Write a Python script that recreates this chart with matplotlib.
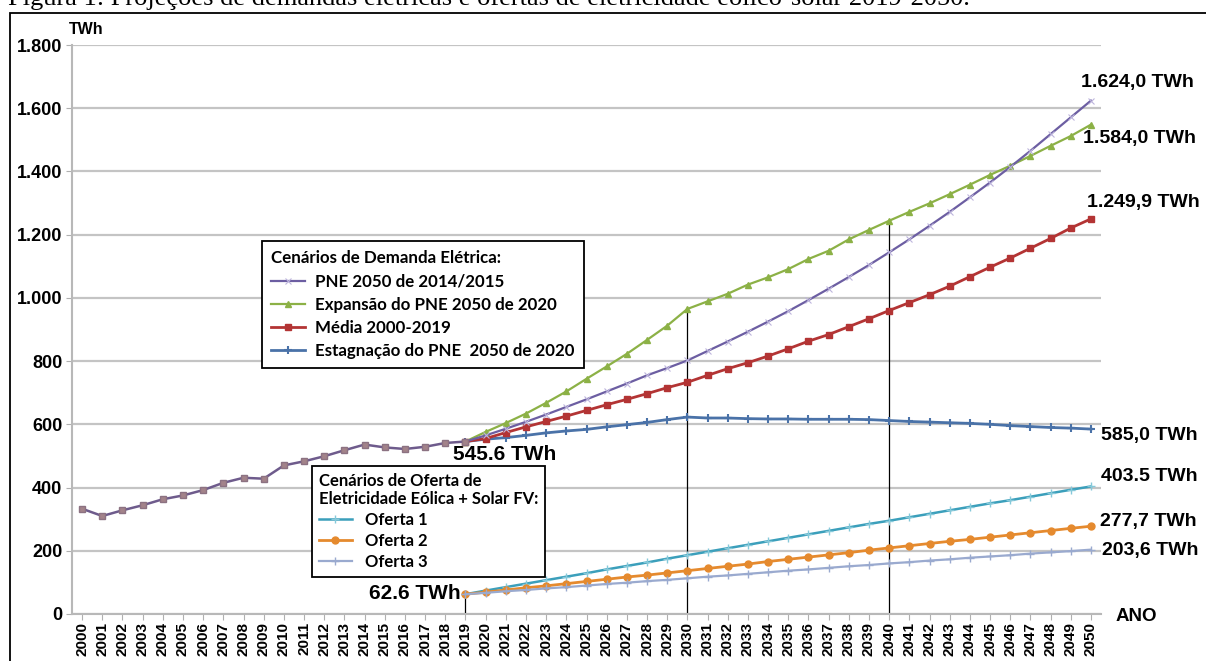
import matplotlib

matplotlib.use("Agg")
import matplotlib.pyplot as plt
from matplotlib.font_manager import FontProperties
from matplotlib.patches import Rectangle
from matplotlib.ticker import FuncFormatter

# historical consumption 2000-2019 (TWh)
years_hist = list(range(2000, 2020))
hist = [333, 310, 328, 344, 363, 375, 392, 415, 431, 428,
        470, 483, 499, 518, 536, 527, 522, 529, 541, 545.6]

# projections 2019-2050 (TWh)
years_proj = list(range(2019, 2051))
pne_2014 = [545.6, 565, 586, 608, 631, 655, 679, 704, 729, 755, 778, 802,
            832, 862, 893, 925, 958, 993, 1029, 1066, 1104, 1144,
            1185, 1228, 1272, 1318, 1365, 1414, 1465, 1518, 1571, 1624.0]
expansao = [545.6, 576, 604, 634, 668, 704, 744, 783, 823, 867, 912, 965,
            989, 1013, 1042, 1065, 1091, 1123, 1149, 1185, 1215, 1244,
            1272, 1299, 1328, 1358, 1389, 1418, 1449, 1481, 1512, 1548]
media = [545.6, 555, 574, 592, 609, 626, 644, 662, 679, 697, 716, 733,
         755, 776, 795, 816, 839, 863, 884, 909, 934, 960,
         985, 1010, 1037, 1067, 1097, 1126, 1157, 1188, 1221, 1249.9]
estagnacao = [545.6, 553, 558, 565, 573, 579, 584, 592, 599, 606, 615, 623,
              620, 620, 618, 617, 617, 616, 616, 616, 615, 612,
              609, 607, 605, 603, 600, 596, 593, 590, 588, 585.0]
oferta1 = [62.6, 74, 85, 96, 107, 118, 129, 141, 152, 163, 175, 186,
           197, 208, 219, 230, 241, 252, 263, 274, 285, 295,
           306, 317, 328, 339, 350, 360, 371, 382, 393, 403.5]
oferta2 = [62.6, 69, 76, 83, 89, 96, 103, 110, 117, 123, 130, 137,
           144, 151, 158, 166, 173, 180, 187, 194, 202, 209,
           216, 223, 230, 236, 243, 250, 257, 264, 271, 277.7]
oferta3 = [62.6, 67, 72, 76, 81, 85, 90, 95, 99, 104, 108, 113,
           118, 122, 127, 132, 137, 141, 146, 151, 155, 160,
           164, 169, 173, 178, 182, 186, 191, 195, 199, 203.6]

demand_labels = ["PNE 2050 de 2014/2015", "Expansão do PNE 2050 de 2020",
                 "Média 2000-2019", "Estagnação do PNE  2050 de 2020"]
supply_labels = ["Oferta 1", "Oferta 2", "Oferta 3"]

# reference years marked with vertical lines
mark_years = [2019, 2030, 2040]
mark_tops = [oferta1[0], expansao[years_proj.index(2030)], expansao[years_proj.index(2040)]]

end_labels = ["1.624,0 TWh", "1.584,0 TWh", "1.249,9 TWh", "585,0 TWh",
              "403.5 TWh", "277,7 TWh", "203,6 TWh"]

W, H = 1206, 661
fig = plt.figure(figsize=(W / 100, H / 100), dpi=100)
ax = fig.add_axes([72 / W, 1 - 614 / H, 1029 / W, 569 / H])

bold = dict(family="Liberation Sans", weight="bold")

# supply scenarios
h_o1, = ax.plot(years_proj, oferta1, color="#3b9fbb", lw=1.8, marker="+", ms=6,
                mew=1.0, mec="#86c9da", zorder=3)
h_o2, = ax.plot(years_proj, oferta2, color="#e58a2e", lw=2.0, marker="o", ms=5,
                zorder=3)
h_o3, = ax.plot(years_proj, oferta3, color="#9aaacf", lw=1.6, marker="+", ms=6,
                mew=1.0, zorder=3)

# demand scenarios
h_est, = ax.plot(years_proj, estagnacao, color="#4a72a8", lw=2.0, marker="+",
                 ms=6, mew=1.5, zorder=4)
h_med, = ax.plot(years_proj, media, color="#b33434", lw=2.0, marker="s", ms=5,
                 zorder=4)
h_exp, = ax.plot(years_proj, expansao, color="#8cb146", lw=1.6, marker="^", ms=5,
                 zorder=4)
h_pne, = ax.plot(years_proj, pne_2014, color="#6c5ea2", lw=1.6, marker="x", ms=4,
                 mew=0.8, mec="#bdb5dc", zorder=5)

# common history
ax.plot(years_hist, hist, color="#6e5b8c", lw=1.8, marker="s", ms=5,
        mfc="#a3838a", mec="#8c7282", zorder=6)

ax.vlines(mark_years, 0, mark_tops, color="black", lw=0.9, zorder=2)

ax.set_xlim(1999.5, 2050.5)
ax.set_ylim(0, 1800)
ax.set_yticks(range(0, 1801, 200))
ax.yaxis.set_major_formatter(FuncFormatter(lambda v, p: f"{int(v):,}".replace(",", ".")))
ax.set_xticks(range(2000, 2051))
ax.set_xticklabels([str(y) for y in range(2000, 2051)], rotation=90, fontsize=11, **bold)
for t in ax.get_yticklabels():
    t.set_fontsize(13)
    t.set_family("Liberation Sans")
    t.set_weight("bold")
ax.tick_params(axis="x", length=4, color="#b0b0b0", pad=2)
ax.tick_params(axis="y", length=4, color="#b0b0b0", pad=3)
ax.grid(axis="y", color="#c4c4c4", lw=1.6)
ax.set_axisbelow(True)
for s in ["top", "right"]:
    ax.spines[s].set_visible(False)
for s in ["left", "bottom"]:
    ax.spines[s].set_color("#b8b8b8")
    ax.spines[s].set_linewidth(1.5)

# end-of-series labels
end_x = [2049.5, 2049.6, 2049.8, 2050.5, 2050.5, 2050.45, 2050.55]
end_y = [1681, 1505, 1302, 566, 434, 292, 202]
for txt, x, y in zip(end_labels, end_x, end_y):
    ax.text(x, y, txt, fontsize=14, va="center", ha="left", clip_on=False, **bold)
ax.text(2051.2, -9, "ANO", fontsize=13.5, va="center", ha="left", clip_on=False, **bold)
ax.text(2018.4, 503, "545.6 TWh", fontsize=15, va="center", ha="left", **bold)
ax.text(2018.75, 66, "62.6 TWh", fontsize=15, va="center", ha="right", **bold)
fig.text(69 / W, 1 - 30 / H, "TWh", fontsize=11.5, va="center", ha="left", **bold)

# legends
lprop1 = FontProperties(family="Lato", weight="bold", size=12.2)
leg1 = ax.legend([h_pne, h_exp, h_med, h_est], demand_labels,
                 title="Cenários de Demanda Elétrica:", loc="upper left",
                 bbox_to_anchor=(0.1846, 0.6555), borderaxespad=0, prop=lprop1,
                 title_fontproperties=lprop1, alignment="left", fancybox=False,
                 edgecolor="black", framealpha=1, handlelength=2.0,
                 handletextpad=0.6, labelspacing=0.42, borderpad=0.55)
leg1.get_frame().set_linewidth(1.3)
ax.add_artist(leg1)
lprop2 = FontProperties(family="Lato", weight="bold", size=12.0)
leg2 = ax.legend([h_o1, h_o2, h_o3], supply_labels,
                 title="Cenários de Oferta de\nEletricidade Eólica + Solar FV:",
                 loc="upper left", bbox_to_anchor=(0.2332, 0.260), borderaxespad=0,
                 prop=lprop2, title_fontproperties=lprop2, alignment="left",
                 fancybox=False, edgecolor="black", framealpha=1, handlelength=2.0,
                 handletextpad=0.8, labelspacing=0.3, borderpad=0.4)
leg2.get_frame().set_linewidth(1.3)
for lg in (leg1, leg2):
    lg.set_zorder(10)

# page caption (cut at the top) and figure frame
fig.text(8 / W, 1 - 4.6 / H,
         "Figura 1: Projeções de demandas elétricas e ofertas de eletricidade eólico-solar 2019-2050.",
         family="Liberation Serif", fontsize=19, va="baseline", ha="left")
fig.add_artist(Rectangle((9.6 / W, -0.1), 1.2, 1.1 - 12.6 / H, transform=fig.transFigure,
                         fill=False, ec="black", lw=1.3))

fig.savefig("out.png", dpi=100)
